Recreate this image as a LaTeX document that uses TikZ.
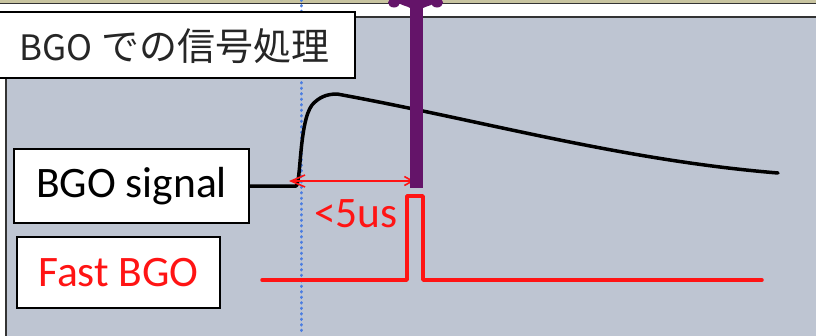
\documentclass[tikz,border=0pt]{standalone}
\usepackage{fontspec}
\setmainfont{Carlito}
\newfontfamily\jpfont{Noto Sans CJK JP}
\usetikzlibrary{arrows.meta}
\definecolor{bgpanel}{RGB}{190,197,210}
\definecolor{khaki}{RGB}{200,196,160}
\definecolor{trigpurple}{RGB}{100,20,105}
\definecolor{guideblue}{RGB}{75,125,225}
\definecolor{sigred}{RGB}{255,20,20}
\tikzset{
  labelbox/.style={draw=black, line width=1.6pt, fill=white, inner sep=0pt},
  sigline/.style={line width=3.5pt, line join=round, line cap=round},
}
\begin{document}
\begin{tikzpicture}[x=1pt,y=-1pt]
\useasboundingbox (0,0) rectangle (816,335);
% frame
\fill[white] (0,0) rectangle (816,335);
\fill[khaki] (0,0) rectangle (816,3);
\draw[black!80, line width=1.2pt] (0,3.6) -- (816,3.6);
\fill[bgpanel] (6,17) rectangle (820,340);
\draw[black!80, line width=1.6pt] (820,17) -- (6,17) -- (6,340);
% blue dotted guide
\draw[guideblue, line width=3pt, line cap=round, dash pattern=on 0.5pt off 5pt] (301,0) -- (301,335);
% title box
\node[labelbox, minimum width=360pt, minimum height=66pt, anchor=north west] (title) at (-6,11) {};
\node[anchor=west, inner sep=0pt, text=black!85] (titletext) at (19,46) {\jpfont\fontsize{35}{40}\selectfont BGO\hspace{9pt}\fontsize{38}{40}\selectfont での信号処理};
% BGO signal box
\node[labelbox, minimum width=235pt, minimum height=74pt, font=\fontsize{43.5}{50}\selectfont] (bgosig) at (131.5,186) {BGO signal};
% Fast BGO box
\node[labelbox, minimum width=203pt, minimum height=71pt, font=\fontsize{43.5}{50}\selectfont, text=sigred] (fastbgo) at (118.5,272.5) {Fast BGO};
% BGO signal waveform
\coordinate (rise) at (296,186);
\coordinate (peak) at (337,94);
\coordinate (tail) at (778,173);
\draw[sigline, black] (bgosig.east |- rise) -- (rise)
  .. controls (301,184) and (299,122) .. (312,105)
  .. controls (319,97) and (327,94) .. (peak)
  .. controls (480,120) and (620,160) .. (tail);
% time difference arrow
\coordinate (arrL) at (289,181);
\coordinate (arrR) at (414,181);
\draw[sigred, line width=1.6pt, {Straight Barb[length=14pt,width=12pt]}-{Straight Barb[length=8pt,width=9pt]}] (arrL) -- (arrR);
\node[anchor=base west, inner sep=0pt, text=sigred, font=\fontsize{43.5}{50}\selectfont] (dt) at (314,227) {<5us};
% trigger bar
\fill[trigpurple] (410,-2) rectangle (423,188);
\fill[trigpurple] (394,2.5) ellipse (6pt and 5pt);
\fill[trigpurple] (437,2.5) ellipse (6pt and 5pt);
\fill[trigpurple] (392,-2) .. controls (400,6) and (408,6) .. (410,8) -- (423,8) .. controls (426,6) and (434,6) .. (440,-2) -- cycle;
% Fast BGO pulse
\draw[sigline, sigred] (262,280) -- (407,280) -- (407,196) -- (423,196) -- (423,280) -- (762,280);
\end{tikzpicture}
\end{document}
